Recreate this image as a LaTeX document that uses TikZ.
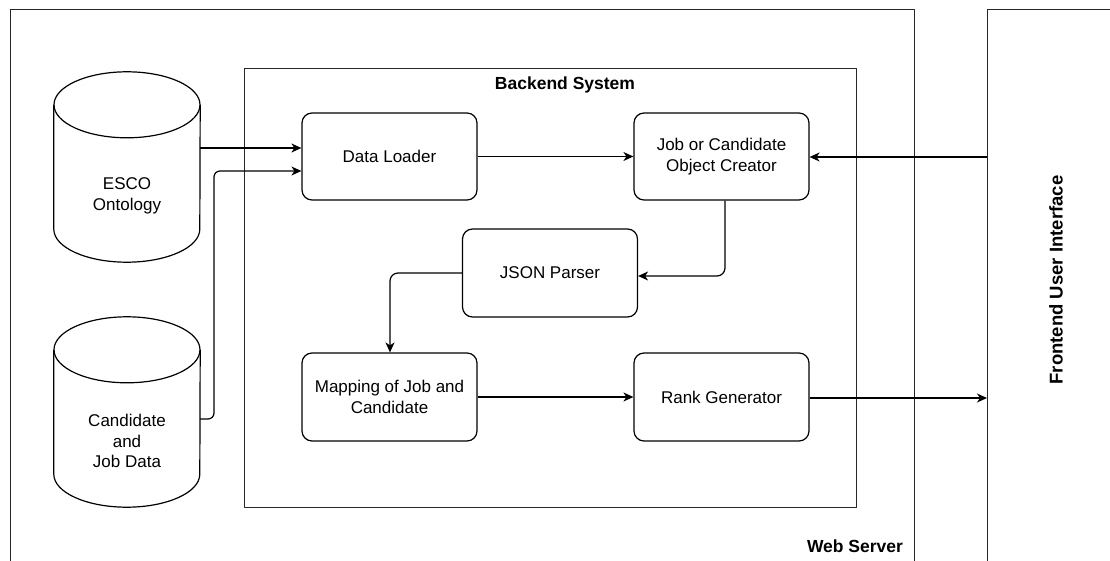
\documentclass[tikz,border=0pt]{standalone}
\usepackage{fontspec}
\setmainfont{Liberation Sans}
\usetikzlibrary{arrows.meta,calc}

\begin{document}
\begin{tikzpicture}[x=1pt,y=1pt,
  line join=round,
  every node/.style={font=\fontsize{17}{20.5}\selectfont, align=center},
  frame/.style={draw=black!85, line width=1pt},
  title/.style={font=\fontsize{17.5}{21}\selectfont\bfseries},
  procbox/.style={draw, line width=1.2pt, rounded corners=10pt, inner sep=0pt},
  store/.style={inner sep=0pt, minimum width=146pt, minimum height=190pt},
  arr/.style={draw, line width=1.2pt, -{Stealth[length=10pt,width=9pt,inset=3pt]}}
]
\useasboundingbox (0,0) rectangle (1110,-561);

% enclosing containers
\draw[frame] (10,-575) -- (10,-10) -- (914,-10) -- (914,-575);
\draw[frame] (987,-575) -- (987,-10) -- (1120,-10);
\draw[frame] (244,-69) rectangle (856,-507);

\node[title, anchor=base] (backend) at (565,-90) {Backend System};
\node[title] (web) at (855,-546) {Web Server};
\node[title, font=\fontsize{18.5}{22}\selectfont\bfseries, rotate=90] (front) at (1056,-280) {Frontend User Interface};

% data stores
\node[store] (esco) at (127,-167) {};
\node[store] (cand) at (127,-412) {};
\foreach \n in {esco,cand}{
  \draw[line width=1.2pt]
    ($(\n.north west)+(0,-33)$) -- ($(\n.south west)+(0,33)$)
    arc[start angle=180, end angle=360, x radius=73, y radius=33]
    -- ($(\n.north east)+(0,-33)$);
  \draw[line width=1.2pt] ($(\n.north)+(0,-33)$) ellipse[x radius=73, y radius=33];
}
\node (escot) at (127,-196) {ESCO\\Ontology};
\node (candt) at (127,-441) {Candidate\\and\\Job Data};

% processing steps
\node[procbox, minimum width=175pt, minimum height=87pt] (dl)   at (389.5,-156.5) {Data Loader};
\node[procbox, minimum width=175pt, minimum height=87pt] (job)  at (721.5,-156.5) {Job or Candidate\\Object Creator};
\node[procbox, minimum width=175pt, minimum height=88pt] (json) at (550,-273) {JSON Parser};
\node[procbox, minimum width=175pt, minimum height=88pt] (map)  at (389.5,-397) {Mapping of Job and\\Candidate};
\node[procbox, minimum width=175pt, minimum height=88pt] (rank) at (721.5,-397) {Rank Generator};

% connectors
\coordinate (ui_in)  at (987,-157);
\coordinate (ui_out) at (987,-398);
\draw[arr] (esco.east |- 0,-148) -- (dl.west |- 0,-148);
\draw[arr, rounded corners=6pt] (cand.east |- 0,-419) -- (214,-419) -- (214,-171) -- (dl.west |- 0,-171);
\draw[arr] (dl.east) -- (job.west);
\draw[arr] (ui_in) -- (job.east |- ui_in);
\draw[arr, rounded corners=8pt] (job.south -| 725,0) -- (725,-276) -- (json.east |- 0,-276);
\draw[arr, rounded corners=8pt] (json.west) -- (390,-273) -- (map.north -| 390,0);
\draw[arr] (map.east) -- (rank.west);
\draw[arr] (rank.east |- ui_out) -- (ui_out);
\end{tikzpicture}
\end{document}
